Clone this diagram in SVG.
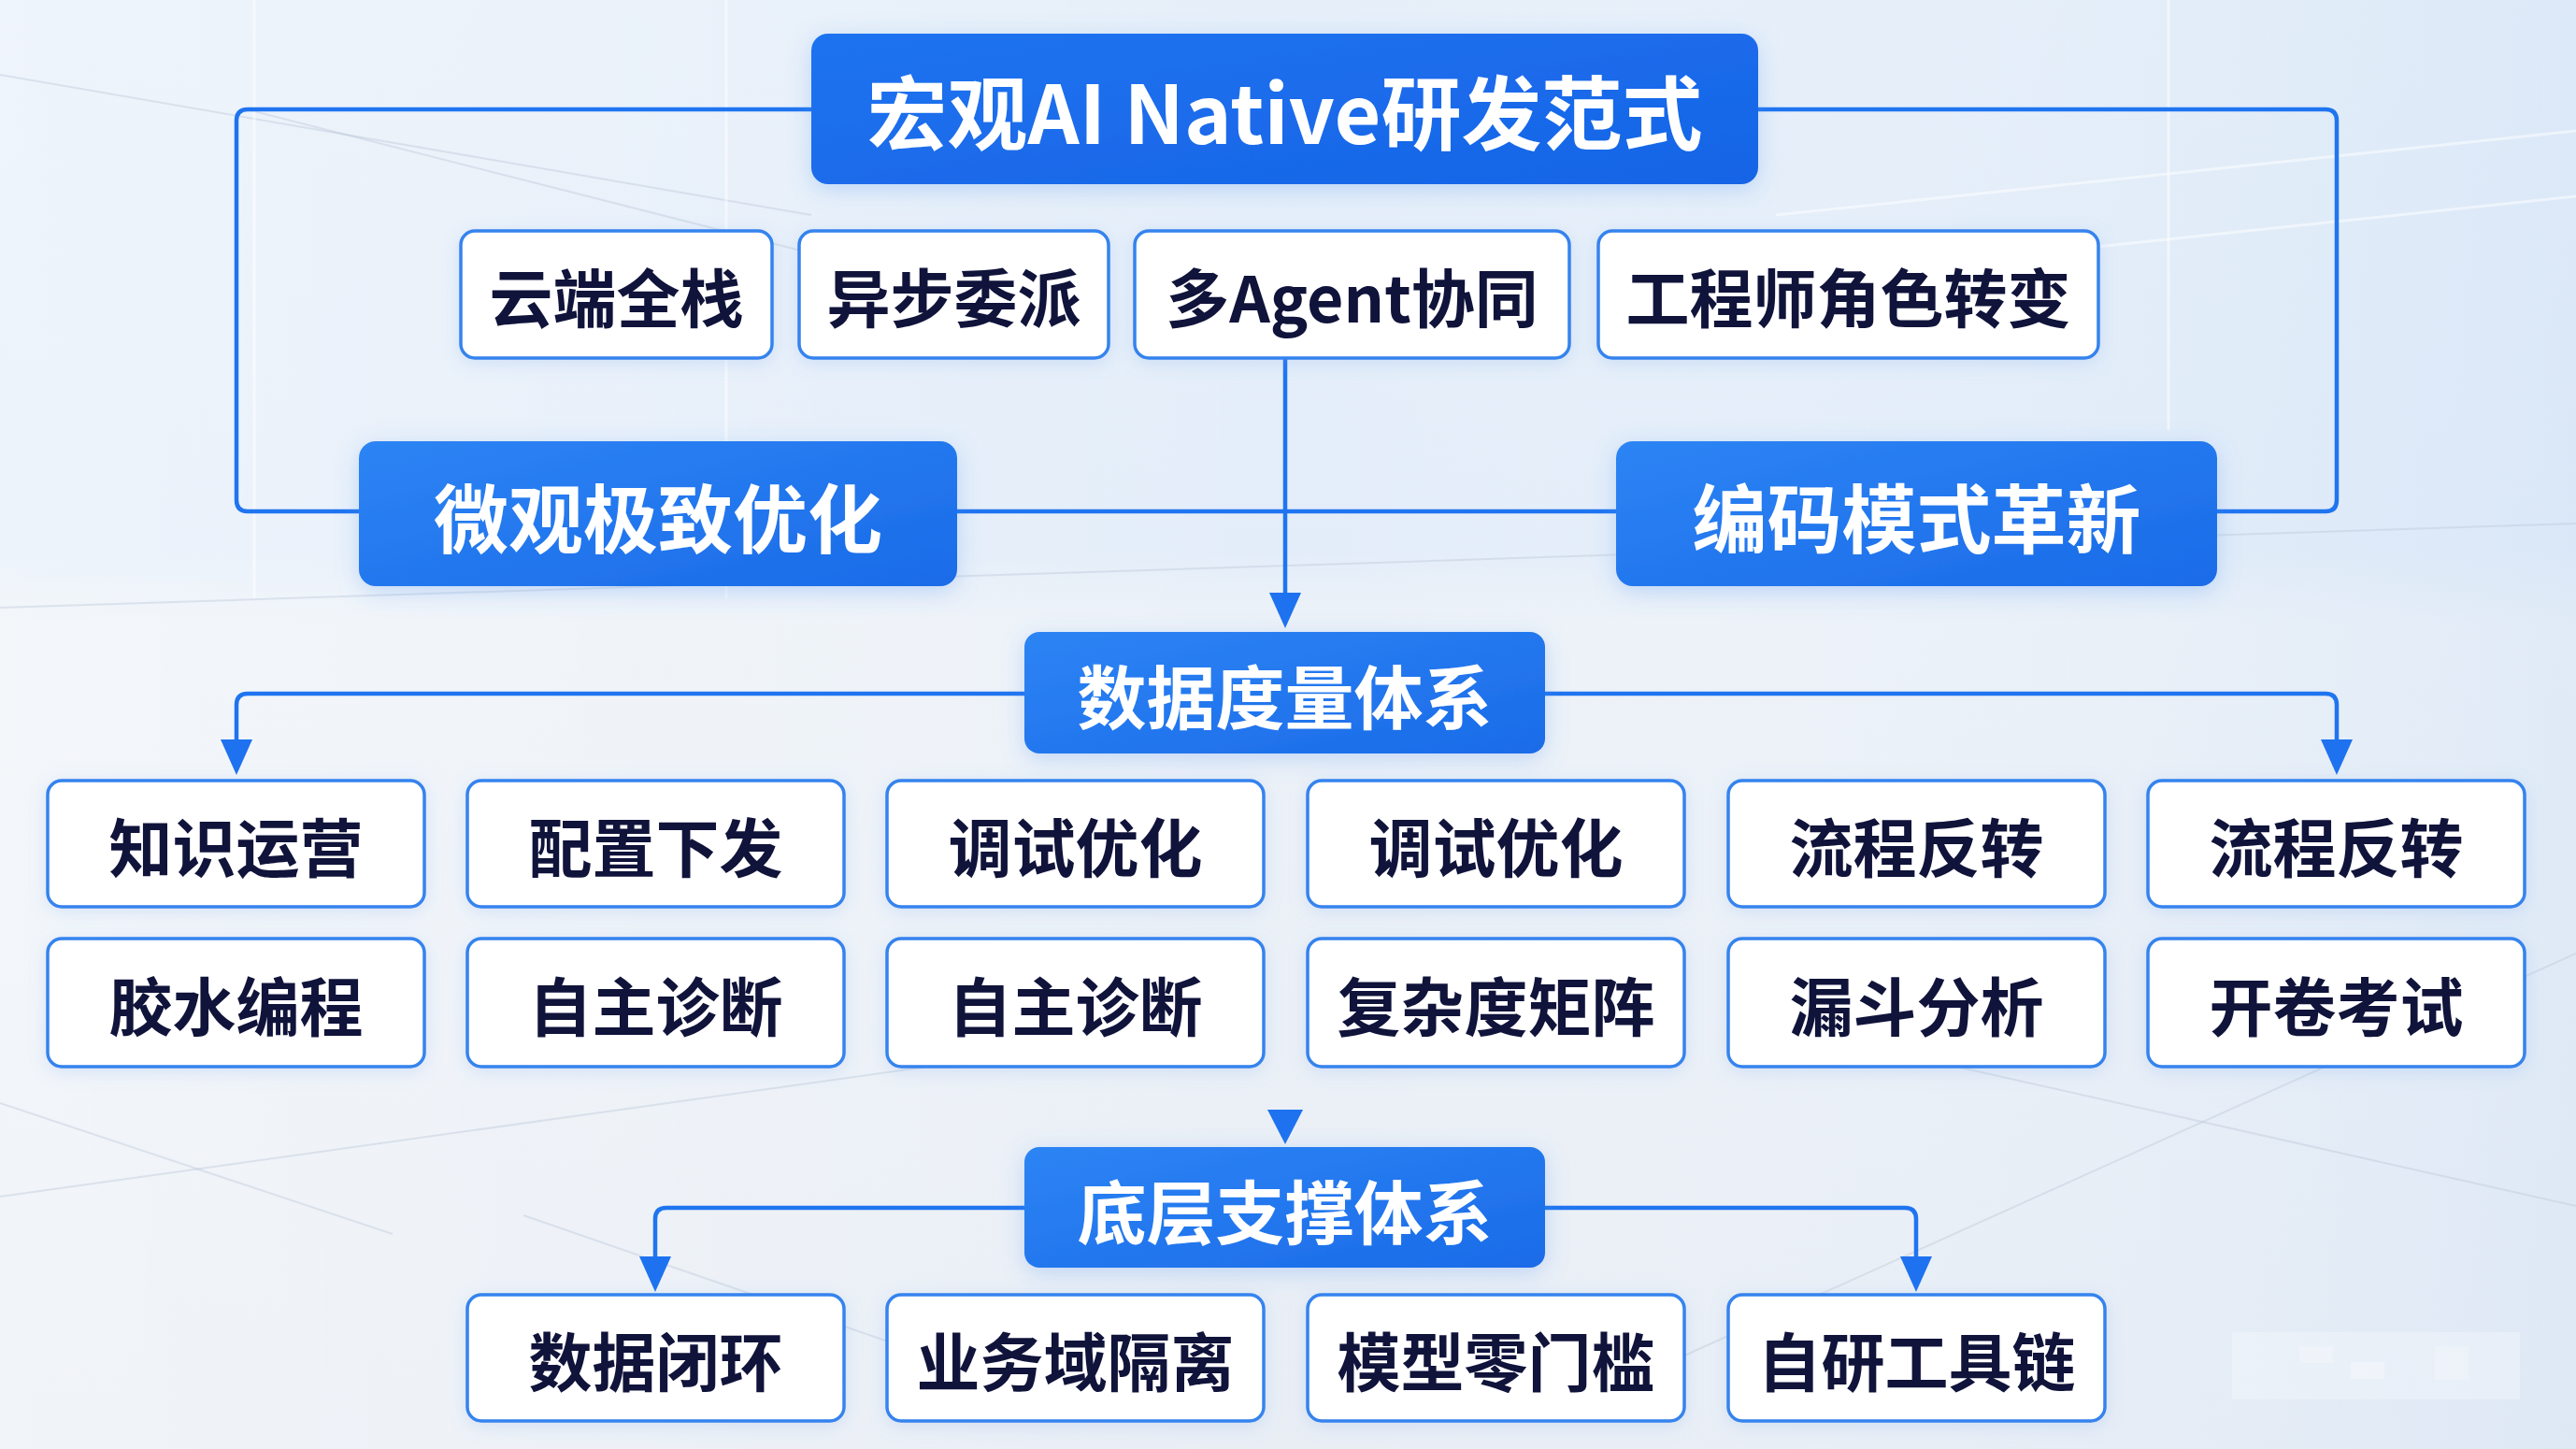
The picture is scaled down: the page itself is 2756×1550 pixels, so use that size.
<svg xmlns="http://www.w3.org/2000/svg" width="2756" height="1550" viewBox="0 0 2756 1550">
<defs>
  <linearGradient id="bg" x1="0" y1="0" x2="0" y2="1">
    <stop offset="0" stop-color="#e6eff9"/>
    <stop offset="0.38" stop-color="#e3edf9"/>
    <stop offset="0.43" stop-color="#edf2f8"/>
    <stop offset="1" stop-color="#e9eef5"/>
  </linearGradient>
  <linearGradient id="bgside" x1="0" y1="0" x2="1" y2="0">
    <stop offset="0" stop-color="#ffffff" stop-opacity="0.35"/>
    <stop offset="0.5" stop-color="#ffffff" stop-opacity="0"/>
    <stop offset="1" stop-color="#c9ddf5" stop-opacity="0.35"/>
  </linearGradient>
  <linearGradient id="blue" x1="0" y1="0" x2="1" y2="1">
    <stop offset="0" stop-color="#2d84f4"/>
    <stop offset="1" stop-color="#1a6be8"/>
  </linearGradient>
  <linearGradient id="blueTitle" x1="0" y1="0" x2="1" y2="1">
    <stop offset="0" stop-color="#1f73f0"/>
    <stop offset="1" stop-color="#1664e6"/>
  </linearGradient>
  <filter id="glow" x="-20%" y="-30%" width="140%" height="160%">
    <feDropShadow dx="0" dy="6" stdDeviation="12" flood-color="#4a8ef0" flood-opacity="0.28"/>
  </filter>
  <filter id="soft" x="-20%" y="-30%" width="140%" height="160%">
    <feDropShadow dx="0" dy="4" stdDeviation="9" flood-color="#6fa3ec" flood-opacity="0.22"/>
  </filter>
  <marker id="arrow" viewBox="0 0 38 34" markerWidth="38" markerHeight="34" markerUnits="userSpaceOnUse" refX="28" refY="17" orient="auto">
    <path d="M0,0 L38,17 L0,34 Z" fill="#1e72ef"/>
  </marker>
  <style>
    .bluebox { fill: url(#blue); filter: url(#glow); }
    .titlebox { fill: url(#blueTitle); filter: url(#glow); }
    .whitebox { fill: #ffffff; stroke: #3583ee; stroke-width: 3.5; filter: url(#soft); }
    .wtxt { font-family: "Noto Sans CJK SC", "Noto Sans", sans-serif; font-weight: 700; fill: #ffffff; text-anchor: middle; dominant-baseline: central; }
    .dtxt { font-family: "Noto Sans CJK SC", "Noto Sans", sans-serif; font-weight: 700; fill: #10133a; text-anchor: middle; dominant-baseline: central; font-size: 68px; }
    .conn { fill: none; stroke: #1f74f0; stroke-width: 4.5; stroke-linejoin: round; }
    .bgline { stroke: #ffffff; stroke-width: 3; opacity: 0.5; fill: none; }
    .bgdark { stroke: #b9c6d6; stroke-width: 2; opacity: 0.4; fill: none; }
  </style>
</defs>

<!-- background -->
<rect x="0" y="0" width="2756" height="1550" fill="url(#bg)"/>
<rect x="0" y="0" width="2756" height="1550" fill="url(#bgside)"/>
<g id="background-lines">
  <path class="bgdark" d="M0,80 L868,230"/>
  <path class="bgdark" d="M260,116 L1100,330"/>
  <path class="bgline" d="M272,0 V640"/>
  <path class="bgline" d="M777,0 V640"/>
  <path class="bgdark" d="M0,650 L2756,560"/>
  <path class="bgline" d="M1900,230 L2756,140"/>
  <path class="bgline" d="M1900,300 L2756,210"/>
  <path class="bgline" d="M2320,0 V460"/>
  <path class="bgdark" d="M0,1280 L1000,1140"/>
  <path class="bgdark" d="M0,1180 L420,1320"/>
  <path class="bgdark" d="M560,1300 L1080,1480"/>
  <path class="bgdark" d="M1780,1460 L2756,1020"/>
  <path class="bgdark" d="M2000,1120 L2756,1290"/>
</g>

<!-- watermark patch -->
<g id="watermark" opacity="0.55">
  <rect x="2388" y="1425" width="308" height="72" fill="#ffffff" opacity="0.45"/>
  <rect x="2460" y="1440" width="36" height="18" fill="#ffffff" opacity="0.6"/>
  <rect x="2515" y="1457" width="36" height="18" fill="#ffffff" opacity="0.7"/>
  <rect x="2605" y="1440" width="36" height="36" fill="#ffffff" opacity="0.6"/>
</g>

<!-- connectors -->
<g id="connectors">
  <path class="conn" d="M868,117 H265 Q253,117 253,129 V535 Q253,547 265,547 H384"/>
  <path class="conn" d="M1881,117 H2488 Q2500,117 2500,129 V535 Q2500,547 2488,547 H2372"/>
  <path class="conn" d="M1024,547 H1729"/>
  <path class="conn" d="M1375,383 V662" marker-end="url(#arrow)"/>
  <path class="conn" d="M1096,742 H265 Q253,742 253,754 V819" marker-end="url(#arrow)"/>
  <path class="conn" d="M1653,742 H2488 Q2500,742 2500,754 V819" marker-end="url(#arrow)"/>
  <path d="M1356,1187 L1394,1187 L1375,1224 Z" fill="#1e72ef"/>
  <path class="conn" d="M1096,1292 H713 Q701,1292 701,1304 V1372" marker-end="url(#arrow)"/>
  <path class="conn" d="M1653,1292 H2038 Q2050,1292 2050,1304 V1372" marker-end="url(#arrow)"/>
</g>

<!-- top level -->
<g id="node-title">
  <rect class="titlebox" x="868" y="36" width="1013" height="161" rx="18"/>
  <text class="wtxt" x="1374.5" y="116" font-size="86">宏观AI Native研发范式</text>
</g>

<g id="node-yunduan">
  <rect class="whitebox" x="493" y="247" width="333" height="136" rx="15"/>
  <text class="dtxt" x="659.5" y="315">云端全栈</text>
</g>
<g id="node-yibu">
  <rect class="whitebox" x="855" y="247" width="331" height="136" rx="15"/>
  <text class="dtxt" x="1020.5" y="315">异步委派</text>
</g>
<g id="node-agent">
  <rect class="whitebox" x="1214" y="247" width="465" height="136" rx="15"/>
  <text class="dtxt" x="1446.5" y="315">多Agent协同</text>
</g>
<g id="node-role">
  <rect class="whitebox" x="1710" y="247" width="535" height="136" rx="15"/>
  <text class="dtxt" x="1977.5" y="315">工程师角色转变</text>
</g>

<g id="node-micro">
  <rect class="bluebox" x="384" y="472" width="640" height="155" rx="18"/>
  <text class="wtxt" x="704" y="550" font-size="80">微观极致优化</text>
</g>
<g id="node-coding">
  <rect class="bluebox" x="1729" y="472" width="643" height="155" rx="18"/>
  <text class="wtxt" x="2050.5" y="550" font-size="80">编码模式革新</text>
</g>

<!-- data metrics -->
<g id="node-data">
  <rect class="bluebox" x="1096" y="676" width="557" height="130" rx="16"/>
  <text class="wtxt" x="1374.5" y="741" font-size="74">数据度量体系</text>
</g>

<g id="node-a1"><rect class="whitebox" x="51" y="835" width="403" height="135" rx="15"/><text class="dtxt" x="252.5" y="903">知识运营</text></g>
<g id="node-a2"><rect class="whitebox" x="500" y="835" width="403" height="135" rx="15"/><text class="dtxt" x="701.5" y="903">配置下发</text></g>
<g id="node-a3"><rect class="whitebox" x="949" y="835" width="403" height="135" rx="15"/><text class="dtxt" x="1150.5" y="903">调试优化</text></g>
<g id="node-a4"><rect class="whitebox" x="1399" y="835" width="403" height="135" rx="15"/><text class="dtxt" x="1600.5" y="903">调试优化</text></g>
<g id="node-a5"><rect class="whitebox" x="1849" y="835" width="403" height="135" rx="15"/><text class="dtxt" x="2050.5" y="903">流程反转</text></g>
<g id="node-a6"><rect class="whitebox" x="2298" y="835" width="403" height="135" rx="15"/><text class="dtxt" x="2499.5" y="903">流程反转</text></g>

<g id="node-b1"><rect class="whitebox" x="51" y="1004" width="403" height="137" rx="15"/><text class="dtxt" x="252.5" y="1073">胶水编程</text></g>
<g id="node-b2"><rect class="whitebox" x="500" y="1004" width="403" height="137" rx="15"/><text class="dtxt" x="701.5" y="1073">自主诊断</text></g>
<g id="node-b3"><rect class="whitebox" x="949" y="1004" width="403" height="137" rx="15"/><text class="dtxt" x="1150.5" y="1073">自主诊断</text></g>
<g id="node-b4"><rect class="whitebox" x="1399" y="1004" width="403" height="137" rx="15"/><text class="dtxt" x="1600.5" y="1073">复杂度矩阵</text></g>
<g id="node-b5"><rect class="whitebox" x="1849" y="1004" width="403" height="137" rx="15"/><text class="dtxt" x="2050.5" y="1073">漏斗分析</text></g>
<g id="node-b6"><rect class="whitebox" x="2298" y="1004" width="403" height="137" rx="15"/><text class="dtxt" x="2499.5" y="1073">开卷考试</text></g>

<!-- base support -->
<g id="node-base">
  <rect class="bluebox" x="1096" y="1227" width="557" height="129" rx="16"/>
  <text class="wtxt" x="1374.5" y="1292" font-size="74">底层支撑体系</text>
</g>

<g id="node-c1"><rect class="whitebox" x="500" y="1385" width="403" height="135" rx="15"/><text class="dtxt" x="701.5" y="1453">数据闭环</text></g>
<g id="node-c2"><rect class="whitebox" x="949" y="1385" width="403" height="135" rx="15"/><text class="dtxt" x="1150.5" y="1453">业务域隔离</text></g>
<g id="node-c3"><rect class="whitebox" x="1399" y="1385" width="403" height="135" rx="15"/><text class="dtxt" x="1600.5" y="1453">模型零门槛</text></g>
<g id="node-c4"><rect class="whitebox" x="1849" y="1385" width="403" height="135" rx="15"/><text class="dtxt" x="2050.5" y="1453">自研工具链</text></g>
</svg>
